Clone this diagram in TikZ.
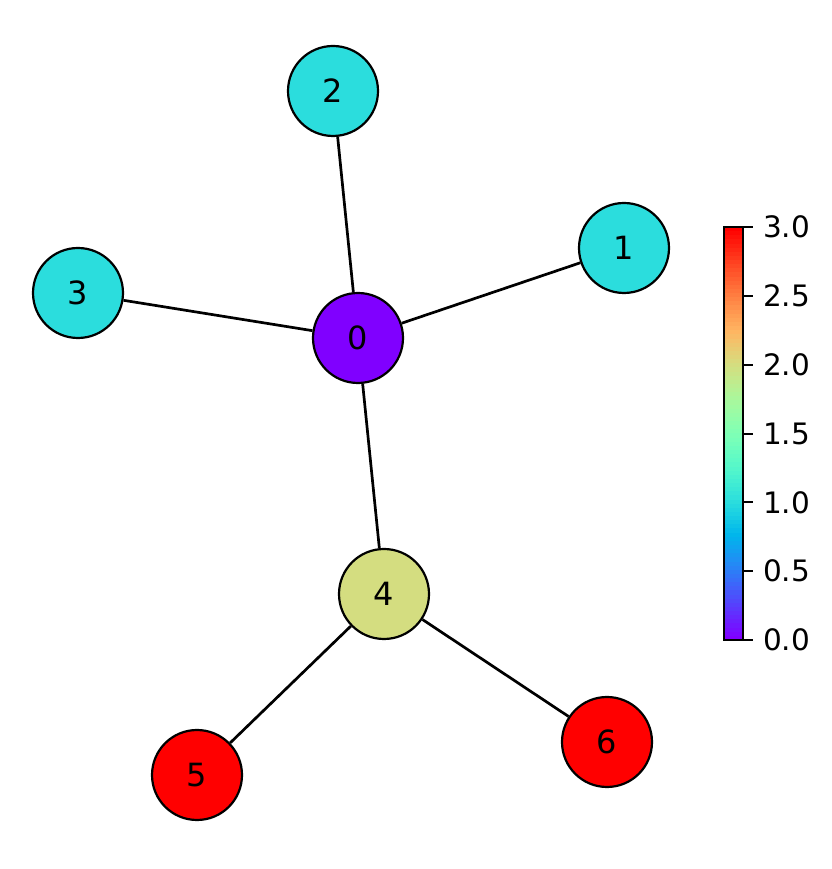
\documentclass[tikz,border=0pt]{standalone}
\usepackage{fontspec}
\setmainfont{DejaVu Sans}
\definecolor{cpurple}{rgb}{0.5,0,1}
\definecolor{ccyan}{rgb}{0.167,0.866,0.866}
\definecolor{colive}{rgb}{0.833,0.866,0.5}
\definecolor{cred}{rgb}{1,0,0}
\begin{document}
\begin{tikzpicture}[x=1pt,y=1pt,
  gnode/.style={circle,draw=black,line width=2.2pt,minimum size=90pt,inner sep=0pt,font=\fontsize{32}{32}\selectfont},
  edge/.style={line width=2.7pt,black},
  tick/.style={line width=2pt,black},
  ticklabel/.style={anchor=west,inner sep=0pt,font=\fontsize{29.5}{29.5}\selectfont}]
\useasboundingbox (0,0) rectangle (831,869);
\node[gnode,fill=cpurple] (n0) at (358,531) {0};
\node[gnode,fill=ccyan] (n1) at (624,621) {1};
\node[gnode,fill=ccyan] (n2) at (333,778) {2};
\node[gnode,fill=ccyan] (n3) at (78,576) {3};
\node[gnode,fill=colive] (n4) at (384,275) {4};
\node[gnode,fill=cred] (n5) at (197,94) {5};
\node[gnode,fill=cred] (n6) at (607,127) {6};
\draw[edge] (n0) -- (n1);
\draw[edge] (n0) -- (n2);
\draw[edge] (n0) -- (n3);
\draw[edge] (n0) -- (n4);
\draw[edge] (n4) -- (n5);
\draw[edge] (n4) -- (n6);
% colorbar
\foreach \i in {0,...,99}{
  \pgfmathsetmacro\tt{\i/99}
  \pgfmathsetmacro\rr{min(1,abs(2*\tt-0.5))}
  \pgfmathsetmacro\gg{abs(sin(180*\tt))}
  \pgfmathsetmacro\bb{abs(cos(90*\tt))}
  \definecolor{cbc}{rgb}{\rr,\gg,\bb}
  \fill[cbc] (724,{229+\i*4.13}) rectangle (743,{229+(\i+1)*4.13+0.3});
}
\draw[line width=2pt] (724,229) rectangle (743,642);
\foreach \v/\lab in {0/0.0,1/0.5,2/1.0,3/1.5,4/2.0,5/2.5,6/3.0}{
  \coordinate (t\v) at (743,{229+\v*68.83});
  \draw[tick] (t\v) -- ++(10,0) node[ticklabel,xshift=9pt] (l\v) {\lab};
}
\end{tikzpicture}
\end{document}
